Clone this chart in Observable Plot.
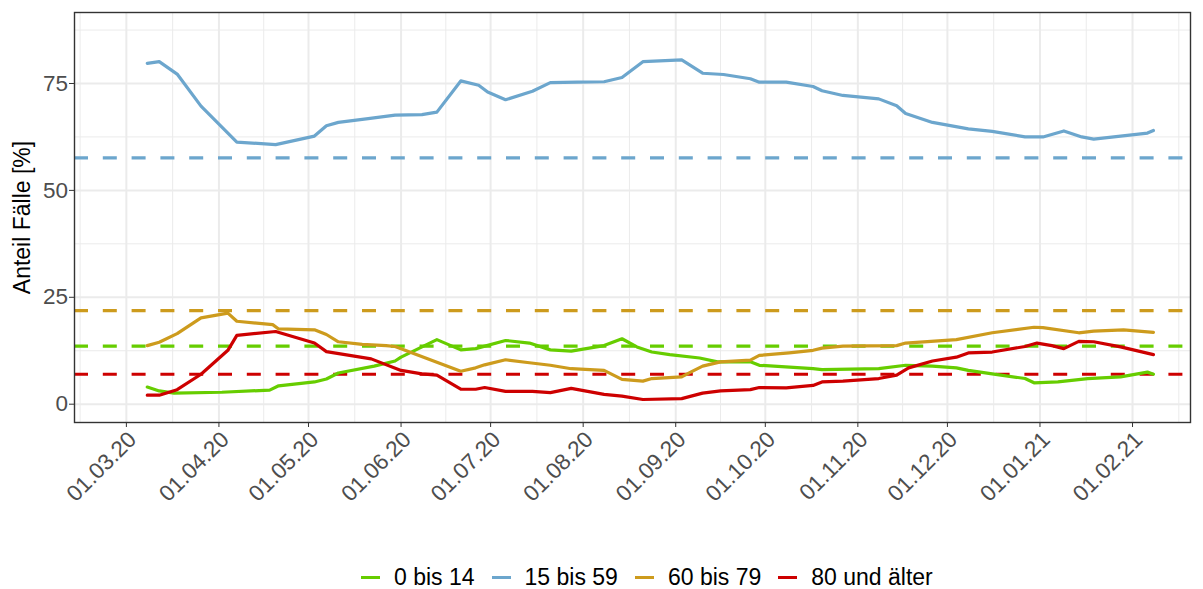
<!DOCTYPE html>
<html><head><meta charset="utf-8">
<script src="https://cdn.jsdelivr.net/npm/d3@7"></script>
<script src="https://cdn.jsdelivr.net/npm/@observablehq/plot@0.6"></script>
<style>
html,body{margin:0;padding:0;background:#fff;}
body{width:1203px;height:589px;position:relative;overflow:hidden;font-family:"Liberation Sans",Arial,sans-serif;}
#legend{position:absolute;left:361px;top:565px;height:24px;display:flex;align-items:center;font-size:23px;color:#000;white-space:nowrap;}
#legend .key{display:inline-block;width:19px;height:3px;margin-right:14px;}
#legend .item{display:flex;align-items:center;margin-right:17px;}
</style></head><body><div id="chart"></div><div id="legend"></div>
<script>
// ---- data ----
const groups = ["0 bis 14", "15 bis 59", "60 bis 79", "80 und älter"];
const colors = ["#66CD00", "#6CA6CD", "#CD9B1D", "#CD0000"];
const referenceValues = [13.6, 57.6, 21.9, 7.0];

const dates0to14 = ["2020-03-08","2020-03-12","2020-03-17","2020-04-02","2020-04-18","2020-04-21","2020-05-03","2020-05-07","2020-05-11","2020-05-23","2020-05-30","2020-06-01","2020-06-13","2020-06-21","2020-06-26","2020-07-06","2020-07-14","2020-07-21","2020-07-28","2020-08-08","2020-08-14","2020-08-19","2020-08-24","2020-08-30","2020-09-09","2020-09-15","2020-09-26","2020-09-29","2020-10-17","2020-10-20","2020-11-08","2020-11-17","2020-11-26","2020-12-04","2020-12-08","2020-12-16","2020-12-27","2020-12-30","2021-01-07","2021-01-17","2021-01-28","2021-02-06","2021-02-08"];
const values0to14 = [4.0,3.1,2.6,2.8,3.3,4.3,5.2,5.9,7.3,8.9,10.1,11.0,15.1,12.7,13.0,14.9,14.3,12.7,12.4,13.7,15.3,13.4,12.2,11.6,10.8,9.9,9.9,9.1,8.3,8.1,8.3,9.1,8.9,8.5,7.9,7.1,6.0,5.0,5.2,6.0,6.4,7.5,7.0];

const dates15to59 = ["2020-03-08","2020-03-12","2020-03-18","2020-03-26","2020-04-07","2020-04-20","2020-05-03","2020-05-07","2020-05-11","2020-05-21","2020-05-30","2020-06-08","2020-06-13","2020-06-21","2020-06-27","2020-06-30","2020-07-06","2020-07-15","2020-07-21","2020-07-30","2020-08-08","2020-08-14","2020-08-21","2020-09-03","2020-09-10","2020-09-17","2020-09-26","2020-09-29","2020-10-08","2020-10-17","2020-10-20","2020-10-27","2020-11-08","2020-11-14","2020-11-17","2020-11-26","2020-12-08","2020-12-16","2020-12-27","2021-01-02","2021-01-09","2021-01-15","2021-01-19","2021-02-06","2021-02-08"];
const values15to59 = [79.7,80.1,77.2,69.7,61.3,60.7,62.7,65.1,65.9,66.8,67.6,67.7,68.3,75.6,74.6,73.0,71.2,73.2,75.2,75.3,75.4,76.4,80.1,80.5,77.4,77.1,76.1,75.3,75.3,74.3,73.3,72.2,71.4,69.8,68.0,65.9,64.4,63.8,62.5,62.5,63.9,62.5,62.0,63.4,64.0];

const dates60to79 = ["2020-03-08","2020-03-12","2020-03-18","2020-03-26","2020-04-04","2020-04-07","2020-04-19","2020-04-21","2020-05-03","2020-05-07","2020-05-11","2020-05-19","2020-05-27","2020-05-30","2020-06-21","2020-06-26","2020-06-29","2020-07-06","2020-07-14","2020-07-21","2020-07-28","2020-08-08","2020-08-14","2020-08-21","2020-08-24","2020-09-03","2020-09-06","2020-09-10","2020-09-16","2020-09-26","2020-09-29","2020-10-09","2020-10-17","2020-10-20","2020-10-27","2020-11-14","2020-11-17","2020-12-04","2020-12-16","2020-12-30","2021-01-02","2021-01-14","2021-01-19","2021-01-29","2021-02-08"];
const values60to79 = [13.7,14.5,16.5,20.2,21.3,19.4,18.6,17.6,17.4,16.3,14.6,14.0,13.7,13.5,7.7,8.5,9.2,10.4,9.7,9.1,8.3,7.9,5.8,5.4,6.0,6.4,7.5,8.9,9.9,10.3,11.4,12.0,12.6,13.1,13.6,13.7,14.3,15.1,16.7,18.0,17.9,16.7,17.1,17.4,16.8];

const dates80plus = ["2020-03-08","2020-03-12","2020-03-18","2020-03-26","2020-04-04","2020-04-07","2020-04-20","2020-05-03","2020-05-07","2020-05-22","2020-06-01","2020-06-08","2020-06-13","2020-06-21","2020-06-26","2020-06-29","2020-07-06","2020-07-15","2020-07-21","2020-07-28","2020-08-08","2020-08-14","2020-08-21","2020-09-03","2020-09-10","2020-09-16","2020-09-26","2020-09-29","2020-10-08","2020-10-17","2020-10-20","2020-10-27","2020-11-08","2020-11-14","2020-11-18","2020-11-26","2020-12-04","2020-12-08","2020-12-16","2020-12-27","2020-12-31","2021-01-05","2021-01-09","2021-01-14","2021-01-19","2021-01-28","2021-02-08"];
const values80plus = [2.1,2.1,3.4,7.0,12.6,16.1,17.0,14.3,12.3,10.6,7.9,7.1,6.8,3.5,3.5,3.9,3.0,3.0,2.7,3.7,2.3,1.9,1.1,1.3,2.6,3.1,3.4,3.9,3.8,4.4,5.2,5.4,6.0,6.8,8.5,10.1,11.0,12.0,12.2,13.5,14.3,13.7,13.0,14.7,14.6,13.4,11.6];

const xTickDates = ["2020-03-01","2020-04-01","2020-05-01","2020-06-01","2020-07-01","2020-08-01","2020-09-01","2020-10-01","2020-11-01","2020-12-01","2021-01-01","2021-02-01"];
const yTicks = [0, 25, 50, 75];
const yMinor = [12.5, 37.5, 62.5, 87.5];
const xDomain = ["2020-02-12T15:00:00Z", "2021-02-20T10:00:00Z"];
const yDomain = [-4.28, 91.6];
const yTitle = "Anteil Fälle [%]";

// ---- build tables ----
const seriesDates = [dates0to14, dates15to59, dates60to79, dates80plus];
const seriesValues = [values0to14, values15to59, values60to79, values80plus];
const rows = [];
groups.forEach((g, i) => seriesDates[i].forEach((d, j) => rows.push({group: g, date: new Date(d + "T00:00:00Z"), value: seriesValues[i][j]})));
const refs = groups.map((g, i) => ({group: g, value: referenceValues[i]}));
const ticks = xTickDates.map(d => new Date(d + "T00:00:00Z"));
const minorX = [];
minorX.push(new Date(+ticks[0] - (ticks[1] - ticks[0]) / 2));
for (let i = 0; i < ticks.length - 1; i++) minorX.push(new Date((+ticks[i] + +ticks[i + 1]) / 2));
minorX.push(new Date(+ticks[ticks.length - 1] + (ticks[ticks.length - 1] - ticks[ticks.length - 2]) / 2));
const dom = xDomain.map(d => new Date(d));
const minorXIn = minorX.filter(d => d >= dom[0] && d <= dom[1]);
const fmt = d3.utcFormat("%d.%m.%y");

const font = "Liberation Sans, Arial, sans-serif";
const chart = Plot.plot({
  width: 1203, height: 556,
  marginLeft: 74, marginRight: 13, marginTop: 12, marginBottom: 134,
  style: {fontFamily: font, background: "white", overflow: "visible"},
  x: {type: "utc", domain: dom},
  y: {domain: yDomain},
  color: {domain: groups, range: colors},
  marks: [
    Plot.gridX(minorXIn, {stroke: "#EBEBEB", strokeOpacity: 1, strokeWidth: 1}),
    Plot.gridY(yMinor, {stroke: "#EBEBEB", strokeOpacity: 1, strokeWidth: 1}),
    Plot.gridX(ticks, {stroke: "#EBEBEB", strokeOpacity: 1, strokeWidth: 2}),
    Plot.gridY(yTicks, {stroke: "#EBEBEB", strokeOpacity: 1, strokeWidth: 2}),
    Plot.ruleY(refs, {y: "value", stroke: "group", strokeWidth: 3.2, strokeDasharray: "14,14.8"}),
    Plot.line(rows, {x: "date", y: "value", z: "group", stroke: "group", strokeWidth: 3.2, strokeLinejoin: "round"}),
    Plot.frame({stroke: "#333", strokeWidth: 1.4}),
    Plot.axisX(ticks, {tickSize: 5, tickFormat: () => "", stroke: "#333", label: null}),
    Plot.text(ticks, {x: d => d, text: d => fmt(d), frameAnchor: "bottom", rotate: -45, textAnchor: "end", lineAnchor: "top", dy: 7, fontSize: 22.5, fill: "#4D4D4D"}),
    Plot.axisY(yTicks, {tickSize: 5, tickPadding: 1.5, fontSize: 22.5, fill: "#4D4D4D", stroke: "#333", label: null}),
    Plot.text([yTitle], {frameAnchor: "left", textAnchor: "middle", rotate: -90, dx: -52, fontSize: 23, fill: "#000"})
  ]
});
document.getElementById("chart").appendChild(chart);

const legend = document.getElementById("legend");
groups.forEach((g, i) => {
  const item = document.createElement("span");
  item.className = "item";
  const key = document.createElement("span");
  key.className = "key";
  key.style.background = colors[i];
  item.appendChild(key);
  item.appendChild(document.createTextNode(g));
  legend.appendChild(item);
});
</script></body></html>
